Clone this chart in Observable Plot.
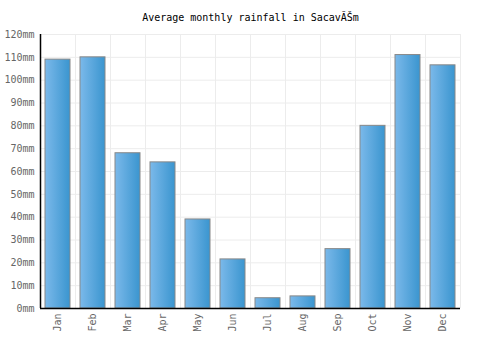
<!DOCTYPE html>
<html>
<head>
<meta charset="utf-8">
<script src="https://cdn.jsdelivr.net/npm/d3@7"></script>
<script src="https://cdn.jsdelivr.net/npm/@observablehq/plot@0.6"></script>
<style>
  body { margin: 0; background: #fff; }
  #chart svg { display: block; }
</style>
</head>
<body>
<div id="chart"></div>
<script>
const title = "Average monthly rainfall in SacavĂŠm";
const months = ["Jan","Feb","Mar","Apr","May","Jun","Jul","Aug","Sep","Oct","Nov","Dec"];
const rainfall = [109, 110, 68, 64, 39, 21.5, 4.5, 5.3, 26, 80, 111, 106.5];
const yTicks = [0,10,20,30,40,50,60,70,80,90,100,110,120];

const data = months.map((m, i) => ({month: m, value: rainfall[i]}));

const defs = () => {
  const g = d3.create("svg:defs");
  const lg = g.append("linearGradient").attr("id", "barGrad")
    .attr("x1", "0").attr("y1", "0").attr("x2", "1").attr("y2", "0");
  lg.append("stop").attr("offset", "0%").attr("stop-color", "#7bb9ea");
  lg.append("stop").attr("offset", "100%").attr("stop-color", "#3a95cf");
  return g.node();
};

const chart = Plot.plot({
  width: 500,
  height: 350,
  marginLeft: 40,
  marginRight: 40,
  marginTop: 34,
  marginBottom: 42,
  style: {fontFamily: "'DejaVu Sans Mono', monospace", fontSize: "10px", background: "#fff"},
  x: {domain: months, paddingInner: 0.3, paddingOuter: 0.15, label: null},
  y: {domain: [0, 120], label: null},
  marks: [
    defs,
    Plot.gridY(yTicks, {stroke: "#ececec", strokeOpacity: 1, strokeWidth: 1}),
    Plot.ruleX(months, {x: d => d, dx: 17.5, stroke: "#ececec", strokeWidth: 1}),
    Plot.barY(data, {x: "month", y: "value", fill: "url(#barGrad)", stroke: "#888888", strokeWidth: 1}),
    Plot.axisY(yTicks, {tickSize: 0, tickPadding: 6, tickFormat: d => d + "mm", fill: "#666", fontSize: 10, label: null}),
    Plot.axisX({tickSize: 0, tickRotate: -90, tickPadding: 5, fill: "#666", fontSize: 10, label: null}),
    Plot.ruleX([0], {x: () => months[0], dx: -17.5, y1: 0, y2: 120, stroke: "#000", strokeWidth: 1.5}),
    Plot.ruleY([0], {stroke: "#000", strokeWidth: 1.5}),
    Plot.text([title], {frameAnchor: "top", dy: -14, lineAnchor: "bottom", text: d => d, fill: "#000", fontSize: 10, fontWeight: "normal"})
  ]
});

document.getElementById("chart").appendChild(chart);
</script>
</body>
</html>
